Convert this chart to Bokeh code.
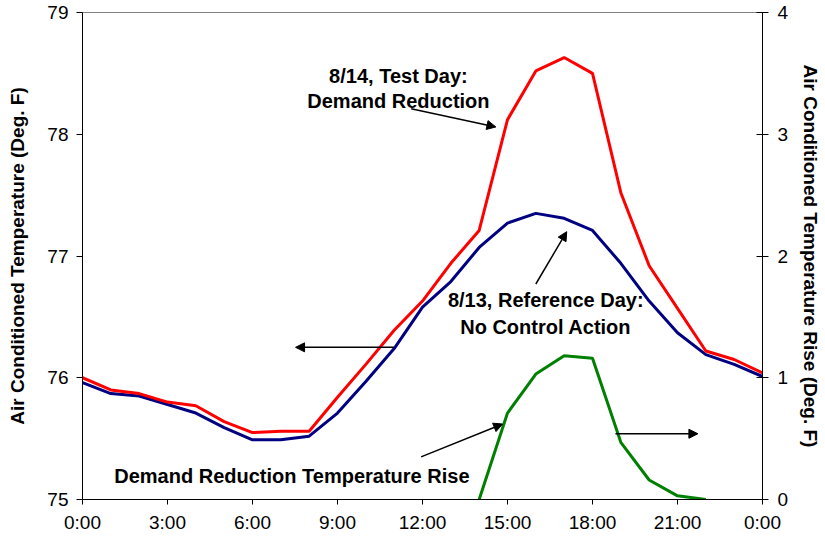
from bokeh.plotting import figure
from bokeh.models import Range1d, LinearAxis, FixedTicker, Arrow, NormalHead, Label
from bokeh.embed import file_html
from bokeh.resources import INLINE

# ---- data ----
hours = list(range(25))
test_day = [76.00, 75.90, 75.87, 75.80, 75.77, 75.64, 75.55, 75.56, 75.56, 75.84,
            76.11, 76.39, 76.63, 76.94, 77.21, 78.12, 78.52, 78.63, 78.50, 77.52,
            76.92, 76.57, 76.22, 76.15, 76.04]
ref_day = [75.96, 75.87, 75.85, 75.78, 75.71, 75.59, 75.49, 75.49, 75.52, 75.71,
           75.97, 76.24, 76.58, 76.79, 77.07, 77.27, 77.35, 77.31, 77.21, 76.94,
           76.63, 76.37, 76.19, 76.11, 76.01]
rise_hours = [14, 15, 16, 17, 18, 19, 20, 21, 22]
rise = [0.00, 0.71, 1.03, 1.18, 1.16, 0.47, 0.16, 0.03, 0.00]

x_ticks = [0, 3, 6, 9, 12, 15, 18, 21, 24]
x_tick_labels = ["0:00", "3:00", "6:00", "9:00", "12:00", "15:00", "18:00", "21:00", "0:00"]
left_ticks = [75, 76, 77, 78, 79]
right_ticks = [0, 1, 2, 3, 4]

FONT = "Liberation Sans"

p = figure(width=824, height=549, x_range=Range1d(0, 24), y_range=Range1d(75, 79),
           output_backend="svg", toolbar_location=None,
           min_border_left=82, min_border_right=60, min_border_top=12, min_border_bottom=50)
p.extra_y_ranges = {"rise": Range1d(0, 4)}

p.grid.visible = False
p.outline_line_color = "#808080"
p.outline_line_width = 1
p.background_fill_color = "white"
p.border_fill_color = "white"

# x axis
xa = p.xaxis[0]
xa.ticker = FixedTicker(ticks=x_ticks)
xa.major_label_overrides = {t: l for t, l in zip(x_ticks, x_tick_labels)}
xa.major_tick_in = 0
xa.major_tick_out = 5
xa.minor_tick_line_color = None
xa.major_label_standoff = 7
xa.major_label_text_font = FONT
xa.major_label_text_font_size = "19px"
xa.major_label_text_color = "black"
xa.axis_line_color = "black"

# left axis
ya = p.yaxis[0]
ya.ticker = FixedTicker(ticks=left_ticks)
ya.major_tick_in = 0
ya.major_tick_out = 6
ya.minor_tick_line_color = None
ya.major_label_standoff = 8
ya.major_label_text_font = FONT
ya.major_label_text_font_size = "19px"
ya.major_label_text_color = "black"
ya.axis_line_color = "black"
ya.axis_label = "Air Conditioned Temperature (Deg. F)"
ya.axis_label_text_font = FONT
ya.axis_label_text_font_style = "bold"
ya.axis_label_text_font_size = "19px"
ya.axis_label_text_color = "black"
ya.axis_label_standoff = 16

# right axis
ra = LinearAxis(y_range_name="rise", ticker=FixedTicker(ticks=right_ticks))
ra.major_tick_in = 6
ra.major_tick_out = 6
ra.minor_tick_line_color = None
ra.major_label_standoff = 9
ra.major_label_text_font = FONT
ra.major_label_text_font_size = "19px"
ra.major_label_text_color = "black"
ra.axis_line_color = "black"
ra.axis_label = "Air Conditioned Temperature Rise (Deg. F)"
ra.axis_label_text_font = FONT
ra.axis_label_text_font_style = "bold"
ra.axis_label_text_font_size = "19px"
ra.axis_label_text_color = "black"
ra.axis_label_standoff = 9
p.add_layout(ra, "right")

# lines
p.line(hours, ref_day, line_color="#000080", line_width=3)
p.line(hours, test_day, line_color="#FF0000", line_width=3)
p.line(rise_hours, rise, line_color="#008000", line_width=3, y_range_name="rise")

# annotations (text)
def label(x, y, txt):
    p.add_layout(Label(x=x, y=y, text=txt, text_align="center", text_baseline="alphabetic",
                       text_font=FONT, text_font_style="bold", text_font_size="20px",
                       text_color="black"))

label(11.15, 78.475, "8/14, Test Day:")
label(11.15, 78.27, "Demand Reduction")
label(16.35, 76.635, "8/13, Reference Day:")
label(16.35, 76.413, "No Control Action")
label(7.39, 75.19, "Demand Reduction Temperature Rise")

# arrows
def arrow(x0, y0, x1, y1):
    p.add_layout(Arrow(end=NormalHead(size=9, fill_color="black", line_color="black", line_width=1),
                       x_start=x0, y_start=y0, x_end=x1, y_end=y1,
                       line_color="black", line_width=1.5))

arrow(11.6, 78.21, 14.59, 78.06)
arrow(16.0, 76.77, 17.09, 77.20)
arrow(10.99, 76.25, 7.52, 76.25)
arrow(11.95, 75.35, 14.83, 75.62)
arrow(18.81, 75.54, 21.72, 75.54)

open("out.html", "w").write(file_html(p, INLINE))
